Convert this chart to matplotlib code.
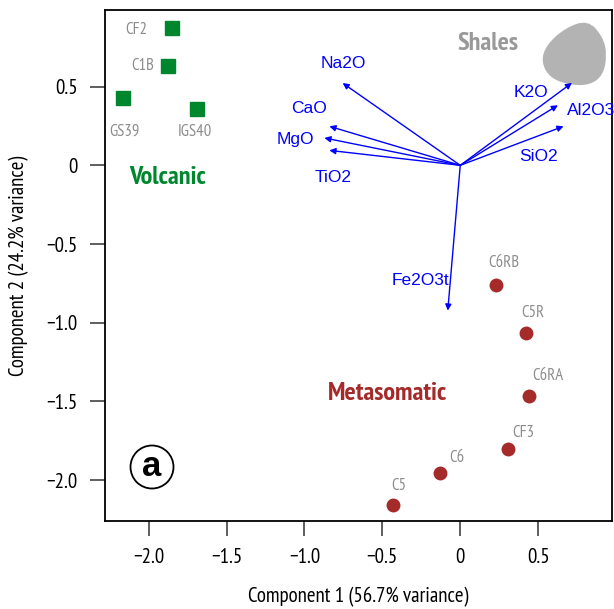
import numpy as np
import matplotlib
matplotlib.use("Agg")
import matplotlib.pyplot as plt
from matplotlib.path import Path
from matplotlib.patches import PathPatch, Circle
from matplotlib import font_manager

# ---------------- data ----------------
volc_names = ["CF2", "C1B", "GS39", "IGS40"]
volc_x = [-1.853, -1.878, -2.167, -1.692]
volc_y = [0.873, 0.631, 0.427, 0.357]

meta_names = ["C6RB", "C5R", "C6RA", "CF3", "C6", "C5"]
meta_x = [0.231, 0.423, 0.442, 0.308, -0.128, -0.429]
meta_y = [-0.758, -1.064, -1.465, -1.803, -1.955, -2.159]

var_names = ["Na2O", "CaO", "MgO", "TiO2", "K2O", "Al2O3", "SiO2", "Fe2O3t"]
var_x = [-0.755, -0.840, -0.872, -0.840, 0.717, 0.627, 0.663, -0.080]
var_y = [0.523, 0.248, 0.174, 0.095, 0.524, 0.382, 0.248, -0.923]
var_lab_x = [-0.75, -0.968, -1.058, -0.814, 0.455, 0.84, 0.50, -0.256]
var_lab_y = [0.65, 0.363, 0.166, -0.076, 0.465, 0.35, 0.057, -0.732]

shale_x = [0.82, 0.917, 0.942, 0.917, 0.833, 0.705, 0.577, 0.519, 0.551, 0.673]
shale_y = [0.924, 0.815, 0.70, 0.573, 0.51, 0.51, 0.554, 0.656, 0.764, 0.873]

xticks = [-2.0, -1.5, -1.0, -0.5, 0.0, 0.5]
xtick_labels = ["\u22122.0", "\u22121.5", "\u22121.0", "\u22120.5", "0", "0.5"]
yticks = [0.5, 0.0, -0.5, -1.0, -1.5, -2.0]
ytick_labels = ["0.5", "0", "\u22120.5", "\u22121.0", "\u22121.5", "\u22122.0"]

# ---------------- fonts ----------------
avail = {f.name for f in font_manager.fontManager.ttflist}
cond = "DejaVu Sans"
for cand in ["PT Sans Narrow", "Open Sans Condensed", "Asap Condensed",
             "Barlow Semi Condensed", "DejaVu Sans Condensed"]:
    if cand in avail:
        cond = cand
        break
COND = [cond, "DejaVu Sans"]
ARIAL = ["Liberation Sans", "DejaVu Sans"]

green = "#00872e"
red = "#a52a2a"
grey = "#8c8c8c"

fig = plt.figure(figsize=(6.14, 6.09), dpi=100)
ax = fig.add_axes([105/614, 1-521/609, (612-105)/614, (521-10)/609])
ax.set_xlim(-2.28, 0.974)
ax.set_ylim(-2.26, 0.987)

# shales blob (smooth closed curve)
n = len(shale_x)
pts = np.column_stack([shale_x, shale_y])
mids = (pts + np.roll(pts, -1, axis=0)) / 2
verts = [mids[-1]]
codes = [Path.MOVETO]
for i in range(n):
    verts += [pts[i], mids[i]]
    codes += [Path.CURVE3, Path.CURVE3]
verts.append(mids[-1]); codes.append(Path.CLOSEPOLY)
ax.add_patch(PathPatch(Path(verts, codes), facecolor="#b3b3b3", edgecolor="none", zorder=1))

# arrows
for nm, x, y, lx, ly in zip(var_names, var_x, var_y, var_lab_x, var_lab_y):
    ax.annotate("", xy=(x, y), xytext=(0, 0),
                arrowprops=dict(arrowstyle="-|>", color="blue", lw=1.0,
                                mutation_scale=9, shrinkA=0, shrinkB=0), zorder=3)
    ax.text(lx, ly, nm, color="blue", fontsize=12.5, family=ARIAL,
            ha="center", va="center", zorder=4, clip_on=False)

# points
ax.plot(volc_x, volc_y, "s", color=green, ms=10, zorder=5)
ax.plot(meta_x, meta_y, "o", color=red, ms=10, mec="none", zorder=5)

vlab = {"CF2": (-2.08, 0.86), "C1B": (-2.04, 0.63), "GS39": (-2.155, 0.215), "IGS40": (-1.70, 0.21)}
for nm in volc_names:
    ax.text(*vlab[nm], nm, color=grey, fontsize=12, family=COND, ha="center", va="center")
mlab = {"C6RB": (0.28, -0.62), "C5R": (0.468, -0.94), "C6RA": (0.564, -1.34),
        "CF3": (0.404, -1.70), "C6": (-0.02, -1.86), "C5": (-0.395, -2.035)}
for nm in meta_names:
    ax.text(*mlab[nm], nm, color=grey, fontsize=12, family=COND, ha="center", va="center")

ax.text(-1.88, -0.075, "Volcanic", color=green, fontsize=19, fontweight="bold",
        family=COND, ha="center", va="center")
ax.text(-0.47, -1.45, "Metasomatic", color=red, fontsize=19, fontweight="bold",
        family=COND, ha="center", va="center")
ax.text(0.18, 0.775, "Shales", color="#999999", fontsize=19, fontweight="bold",
        family=COND, ha="center", va="center")

# panel letter
ax.add_patch(Circle((152, 609-467), 21.5, transform=None, facecolor="white",
                    edgecolor="black", lw=1.3, zorder=6))
fig.text(152/614, 1-467/609, "a", fontsize=25, fontweight="bold", family=ARIAL,
         ha="center", va="center", zorder=7)

# axes styling
for s in ax.spines.values():
    s.set_linewidth(1.3)
ax.set_xticks(xticks)
ax.set_xticklabels(xtick_labels, family=COND, fontsize=15)
ax.set_yticks(yticks)
ax.set_yticklabels(ytick_labels, family=COND, fontsize=15)
ax.tick_params(direction="out", length=11, width=1.1, pad=8.5, color="#333333")
ax.set_xlabel("Component 1 (56.7% variance)", family=COND, fontsize=15, labelpad=14)
ax.set_ylabel("Component 2 (24.2% variance)", family=COND, fontsize=15, labelpad=13)

fig.savefig("out.png", dpi=100)
